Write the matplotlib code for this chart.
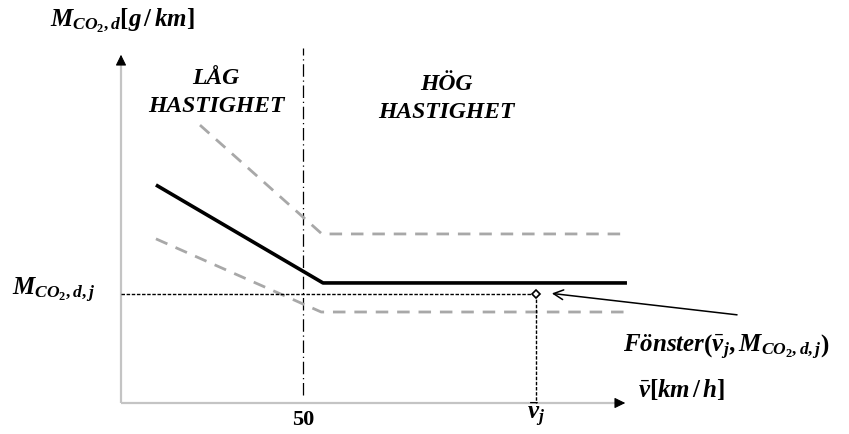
import matplotlib
matplotlib.use("Agg")
import matplotlib.pyplot as plt

plt.rcParams['mathtext.fontset'] = 'custom'
plt.rcParams['mathtext.rm'] = 'Liberation Serif:bold'
plt.rcParams['mathtext.it'] = 'Liberation Serif:bold:italic'
plt.rcParams['mathtext.bf'] = 'Liberation Serif:bold'

# --- data (schematic units: speed v, emission M) ---
solid_v = [9.6, 55.5, 139.0]
solid_m = [62.3, 34.3, 34.3]
upper_v = [21.7, 55.2, 139.0]
upper_m = [79.4, 48.3, 48.3]
lower_v = [9.6, 55.0, 139.0]
lower_m = [46.9, 26.0, 26.0]
vj = 114.0
mj = 31.1
v_split = 50
x_max = 139.3
y_max = 100.3

fig = plt.figure(figsize=(8.49, 4.34), dpi=100)
ax = fig.add_axes([0, 0, 1, 1])
# pixel mapping: px = 121 + 3.64 v ; py = 403 - 3.5 M
ax.set_xlim((0 - 121) / 3.64, (849 - 121) / 3.64)
ax.set_ylim((403 - 434) / 3.5, (403 - 0) / 3.5)
ax.axis('off')

axis_col = '#c4c4c4'
# axes lines
ax.plot([0, x_max - 2], [0, 0], color=axis_col, lw=1.6, solid_capstyle='butt')
ax.plot([0, 0], [0, y_max - 2.5], color=axis_col, lw=1.6, solid_capstyle='butt')
ax.annotate('', xy=(x_max, 0), xytext=(x_max - 3.5, 0),
            arrowprops=dict(arrowstyle='-|>,head_length=0.65,head_width=0.32', color='black', lw=0.8))
ax.annotate('', xy=(0, y_max), xytext=(0, y_max - 3.5),
            arrowprops=dict(arrowstyle='-|>,head_length=0.65,head_width=0.32', color='black', lw=0.8))

# split dash-dot line
ax.plot([v_split, v_split], [(403 - 395) / 3.5, (403 - 48) / 3.5], color='black', lw=0.9,
        linestyle=(0, (10, 3, 1, 3)))

# dashed bounds
dash_col = '#a8a8a8'
ax.plot(upper_v, upper_m, color=dash_col, lw=2.0, linestyle=(0, (4.5, 3.2)))
ax.plot(lower_v, lower_m, color=dash_col, lw=2.0, linestyle=(0, (4.5, 3.2)))

# solid curve
ax.plot(solid_v, solid_m, color='black', lw=2.6, solid_capstyle='butt')

# dotted projections
ax.plot([0, vj], [mj, mj], color='black', lw=1.0, linestyle=(0, (2.5, 1.2)))
ax.plot([vj, vj], [mj, 0], color='black', lw=1.0, linestyle=(0, (2.5, 1.2)))
ax.plot([vj], [mj], marker='D', ms=4.5, mfc='white', mec='black', mew=1.2)

# annotation arrow
ax.annotate('', xy=(117.6, 31.4), xytext=(170.0, 25.1),
            arrowprops=dict(arrowstyle='->,head_length=0.7,head_width=0.35', color='black', lw=1.1))

tfont = dict(family='Liberation Serif', weight='bold', style='italic', fontsize=17)
ax.text(26.1, (403 - 78) / 3.5, 'LÅG', ha='center', va='center', **tfont)
ax.text(26.1, (403 - 107) / 3.5, 'HASTIGHET', ha='center', va='center', **tfont)
ax.text(89.3, (403 - 85) / 3.5, 'HÖG', ha='center', va='center', **tfont)
ax.text(89.3, (403 - 113) / 3.5, 'HASTIGHET', ha='center', va='center', **tfont)

ms = 18
ax.text((50 - 121) / 3.64, (403 - 20) / 3.5, r'$M_{CO_2,d}[g\,/\,km]$', ha='left', va='center', fontsize=ms)
ax.text((12 - 121) / 3.64, (403 - 290) / 3.5, r'$M_{CO_2,d,j}$', ha='left', va='center', fontsize=ms)
ax.text(v_split, (403 - 420) / 3.5, '50', ha='center', va='center',
        family='Liberation Serif', weight='bold', fontsize=16)
ax.text(vj, (403 - 415) / 3.5, r'$\bar{v}_j$', ha='center', va='center', fontsize=ms)
ax.text((638 - 121) / 3.64, (403 - 390) / 3.5, r'$\bar{v}[km\,/\,h]$', ha='left', va='center', fontsize=ms)
ax.text((623 - 121) / 3.64, (403 - 347) / 3.5, r'$Fönster\left(\bar{v}_j,M_{CO_2,d,j}\right)$',
        ha='left', va='center', fontsize=ms)

fig.savefig('out.png', dpi=100)
